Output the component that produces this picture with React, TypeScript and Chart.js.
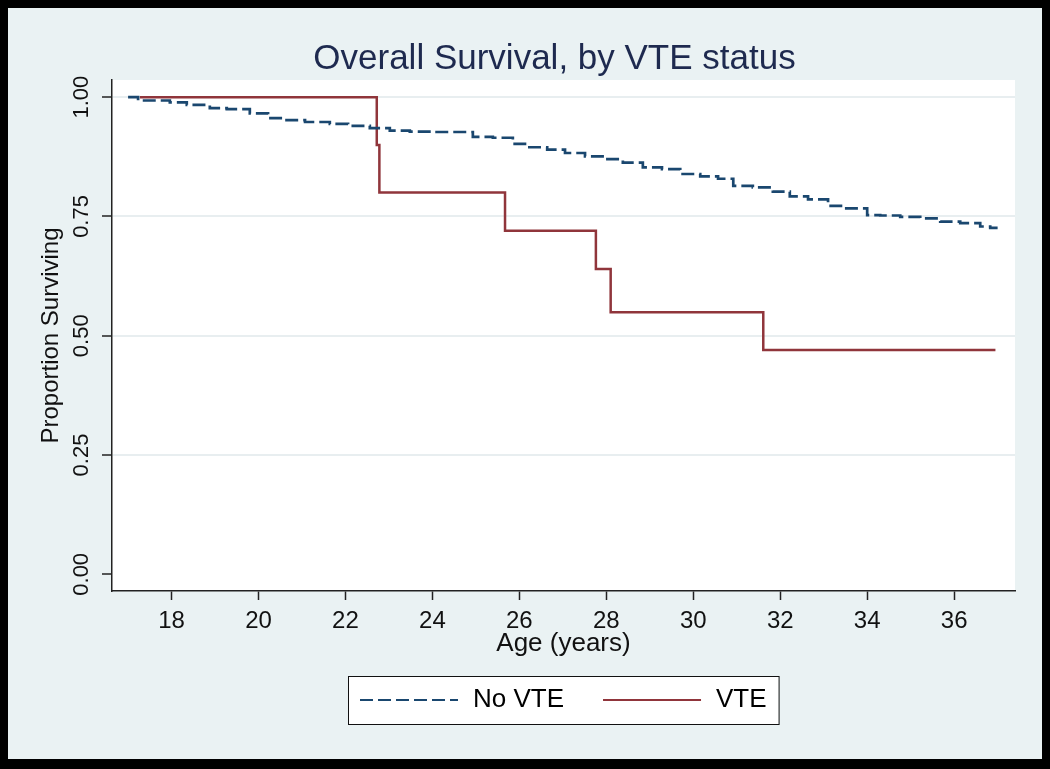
import React, { useEffect, useRef } from "react";
import { Chart, registerables } from "chart.js";

Chart.register(...registerables);

const TITLE = "Overall Survival, by VTE status";
const X_TITLE = "Age (years)";
const Y_TITLE = "Proportion Surviving";
const X_TICKS = [18, 20, 22, 24, 26, 28, 30, 32, 34, 36];
const Y_TICKS = [0, 0.25, 0.5, 0.75, 1];
const Y_TICK_LABELS = ["0.00", "0.25", "0.50", "0.75", "1.00"];
const SERIES_LABELS = ["No VTE", "VTE"];

const NO_VTE_AGE = [
  17.0, 17.23, 17.96, 18.35, 18.88, 19.27, 19.8, 20.22, 20.61, 21.07, 21.64,
  22.06, 22.56, 23.02, 23.48, 24.01, 24.93, 25.39, 25.85, 26.18, 26.64, 27.05,
  27.51, 27.97, 28.38, 28.84, 29.28, 29.7, 30.16, 30.57, 30.92, 31.37, 31.83,
  32.22, 32.64, 33.1, 33.45, 34.0, 34.3, 34.76, 35.22, 35.68, 36.14, 36.6,
  36.83, 37.0,
];
const NO_VTE_SURV = [
  1.0, 0.993, 0.989, 0.984, 0.977, 0.975, 0.966, 0.956, 0.952, 0.948, 0.944,
  0.94, 0.935, 0.93, 0.928, 0.927, 0.917, 0.915, 0.902, 0.895, 0.89, 0.883,
  0.876, 0.87, 0.863, 0.853, 0.849, 0.839, 0.834, 0.829, 0.814, 0.811, 0.802,
  0.792, 0.786, 0.772, 0.767, 0.753, 0.752, 0.749, 0.746, 0.739, 0.736, 0.729,
  0.726, 0.726,
];

const VTE_AGE = [17.27, 22.72, 22.78, 25.67, 27.76, 28.1, 31.61, 36.95];
const VTE_SURV = [1.0, 0.9, 0.8, 0.72, 0.64, 0.549, 0.47, 0.47];

const FONT = "'Liberation Sans', Arial, Helvetica, sans-serif";

const decorPlugin = {
  id: "decor",
  beforeDraw(chart: any) {
    const { ctx, chartArea: a, width, height } = chart;
    ctx.save();
    ctx.fillStyle = "#eaf2f3";
    ctx.fillRect(0, 0, width, height);
    ctx.fillStyle = "#ffffff";
    ctx.fillRect(a.left, a.top, a.right - a.left, a.bottom - a.top);
    ctx.restore();
  },
  afterDraw(chart: any) {
    const { ctx, chartArea: a } = chart;
    const ys = chart.scales.y;
    const cx = (a.left + a.right) / 2;
    ctx.save();

    // Title
    ctx.fillStyle = "#1e2a4f";
    ctx.font = `35px ${FONT}`;
    ctx.textAlign = "center";
    ctx.textBaseline = "alphabetic";
    ctx.fillText(TITLE, cx - 9, 60.5);

    // Rotated y tick labels
    ctx.fillStyle = "#111111";
    ctx.font = `22px ${FONT}`;
    Y_TICKS.forEach((v, i) => {
      const y = ys.getPixelForValue(v);
      ctx.save();
      ctx.translate(a.left - 30, y);
      ctx.rotate(-Math.PI / 2);
      ctx.textAlign = "center";
      ctx.textBaseline = "middle";
      ctx.fillText(Y_TICK_LABELS[i], 0, 0);
      ctx.restore();
    });

    // Legend
    const ds = chart.data.datasets;
    ctx.font = `26px ${FONT}`;
    const sampleW = 98;
    const gapText = 15;
    const itemGap = 39;
    const padX = 12;
    const widths = ds.map((d: any) => ctx.measureText(d.label).width);
    let total = padX * 2;
    widths.forEach((w: number, i: number) => {
      total += sampleW + gapText + w + (i < widths.length - 1 ? itemGap : 0);
    });
    const boxLeft = Math.round(cx - total / 2);
    const boxTop = a.bottom + 85;
    const boxH = 48;
    const midY = boxTop + 24;
    ctx.fillStyle = "#ffffff";
    ctx.fillRect(boxLeft, boxTop, total, boxH);
    ctx.strokeStyle = "#111111";
    ctx.lineWidth = 1;
    ctx.setLineDash([]);
    ctx.strokeRect(boxLeft + 0.5, boxTop + 0.5, total, boxH);
    let x = boxLeft + padX;
    ds.forEach((d: any, i: number) => {
      ctx.save();
      ctx.strokeStyle = d.borderColor;
      ctx.lineWidth = 2;
      ctx.setLineDash(d.borderDash || []);
      ctx.beginPath();
      ctx.moveTo(x, midY);
      ctx.lineTo(x + sampleW, midY);
      ctx.stroke();
      ctx.restore();
      x += sampleW + gapText;
      ctx.fillStyle = "#000000";
      ctx.textAlign = "left";
      ctx.textBaseline = "middle";
      ctx.fillText(d.label, x, midY);
      x += widths[i] + itemGap;
    });

    ctx.restore();
  },
};

export default function App() {
  const ref = useRef<HTMLCanvasElement | null>(null);

  useEffect(() => {
    document.body.style.background = "#000000";
    const canvas = ref.current;
    if (!canvas) return;

    const noVte = NO_VTE_AGE.map((x, i) => ({ x, y: NO_VTE_SURV[i] }));
    const vte = VTE_AGE.map((x, i) => ({ x, y: VTE_SURV[i] }));

    const chart = new Chart(canvas, {
      type: "line",
      data: {
        datasets: [
          {
            label: SERIES_LABELS[0],
            data: noVte,
            borderColor: "#1a476f",
            backgroundColor: "#1a476f",
            borderWidth: 2.7,
            borderDash: [13, 5],
            stepped: true,
            pointRadius: 0,
            fill: false,
          },
          {
            label: SERIES_LABELS[1],
            data: vte,
            borderColor: "#90353b",
            backgroundColor: "#90353b",
            borderWidth: 2.5,
            stepped: true,
            pointRadius: 0,
            fill: false,
          },
        ],
      },
      options: {
        responsive: false,
        animation: false,
        devicePixelRatio: 1,
        layout: { padding: { top: 72, right: 27, bottom: 96, left: 0 } },
        plugins: {
          legend: { display: false },
          title: { display: false },
          tooltip: { enabled: false },
        },
        scales: {
          x: {
            type: "linear",
            min: 16.63,
            max: 37.4,
            afterBuildTicks: (s: any) => {
              s.ticks = X_TICKS.map((v) => ({ value: v }));
            },
            afterFit: (s: any) => {
              s.height = 72;
            },
            grid: {
              drawOnChartArea: false,
              drawTicks: true,
              tickLength: 9,
              tickColor: "#222222",
              tickWidth: 1.5,
            },
            border: { display: true, color: "#222222", width: 1.5 },
            ticks: {
              color: "#111111",
              font: { family: FONT, size: 24 },
              padding: 7,
              maxRotation: 0,
              autoSkip: false,
            },
            title: {
              display: true,
              text: X_TITLE,
              color: "#111111",
              font: { family: FONT, size: 26 },
              padding: { top: 4, bottom: 4 },
            },
          },
          y: {
            type: "linear",
            min: -0.035,
            max: 1.036,
            afterBuildTicks: (s: any) => {
              s.ticks = Y_TICKS.map((v) => ({ value: v }));
            },
            afterFit: (s: any) => {
              s.width = 104;
            },
            grid: {
              drawOnChartArea: true,
              drawTicks: true,
              tickLength: 10,
              lineWidth: 2,
              color: (c: any) =>
                c.tick && c.tick.value === 0 ? "rgba(0,0,0,0)" : "#e8eef0",
              tickColor: "#222222",
              tickWidth: 1.5,
            },
            border: { display: true, color: "#222222", width: 1.5 },
            ticks: { display: false },
            title: {
              display: true,
              text: Y_TITLE,
              color: "#111111",
              font: { family: FONT, size: 24 },
              padding: { top: 29, bottom: 0 },
            },
          },
        },
      },
      plugins: [decorPlugin],
    } as any);

    return () => {
      chart.destroy();
    };
  }, []);

  return (
    <canvas
      ref={ref}
      width={1034}
      height={751}
      style={{ display: "block", width: 1034, height: 751 }}
    />
  );
}
